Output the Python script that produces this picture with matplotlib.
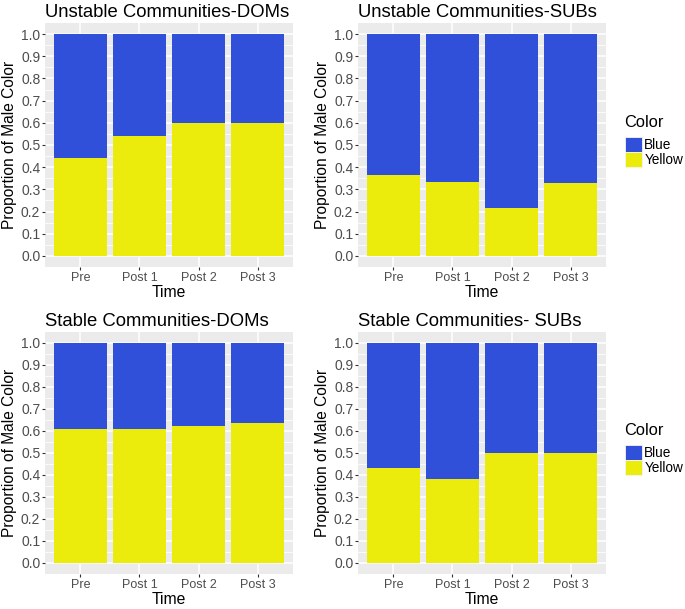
import matplotlib
matplotlib.use("Agg")
import matplotlib.pyplot as plt
from matplotlib.patches import Patch
import numpy as np

plt.rcParams['font.family'] = ['Liberation Sans', 'DejaVu Sans']

times = ["Pre", "Post 1", "Post 2", "Post 3"]
titles = ["Unstable Communities-DOMs", "Unstable Communities-SUBs",
          "Stable Communities-DOMs", "Stable Communities- SUBs"]
yellow_unstable_doms = [0.44, 0.54, 0.60, 0.60]
yellow_unstable_subs = [0.364, 0.333, 0.217, 0.327]
yellow_stable_doms = [0.607, 0.607, 0.623, 0.636]
yellow_stable_subs = [0.433, 0.383, 0.50, 0.50]
yellow_sets = [yellow_unstable_doms, yellow_unstable_subs,
               yellow_stable_doms, yellow_stable_subs]
legend_labels = ["Blue", "Yellow"]

BLUE = "#3150D9"
YELLOW = "#EBEB0C"
BG = "#EBEBEB"
TXT = "#4D4D4D"

W, H = 685, 609
fig = plt.figure(figsize=(W / 100, H / 100), dpi=100)

# axes rectangles in pixels: (left, top, right, bottom)
rects = [(45, 23, 293, 267), (358, 23, 606, 267),
         (45, 332, 293, 574), (358, 332, 606, 574)]

for i, (rect, title, yv) in enumerate(zip(rects, titles, yellow_sets)):
    l, t, r, b = rect
    ax = fig.add_axes([l / W, 1 - b / H, (r - l) / W, (b - t) / H])
    ax.set_facecolor(BG)
    x = np.arange(1, len(times) + 1)
    yv = np.array(yv)
    ax.bar(x, yv, width=0.9, color=YELLOW, zorder=3)
    ax.bar(x, 1 - yv, bottom=yv, width=0.9, color=BLUE, zorder=3)
    ax.set_xlim(0.4, 4.6)
    ax.set_ylim(-0.05, 1.05)
    ax.set_xticks(x)
    ax.set_xticklabels(times)
    ax.set_yticks(np.arange(0, 1.01, 0.1))
    ax.set_yticklabels([f"{v:.1f}" for v in np.arange(0, 1.01, 0.1)])
    ax.set_yticks(np.arange(0.05, 1.0, 0.1), minor=True)
    ax.grid(True, which='major', color='white', linewidth=1.1, zorder=0)
    ax.grid(True, which='minor', axis='y', color='white', linewidth=0.55, zorder=0)
    ax.tick_params(which='minor', length=0)
    ax.tick_params(which='major', length=2.2, color='#333333', width=0.8,
                   labelcolor=TXT, pad=1.2)
    ax.tick_params(axis='y', labelsize=10)
    ax.tick_params(axis='x', labelsize=9)
    for s in ax.spines.values():
        s.set_visible(False)
    ax.set_xlabel("Time", fontsize=11.3, labelpad=1)
    ax.set_ylabel("Proportion of Male Color", fontsize=11.2, labelpad=3)
    ax.set_title(title, fontsize=13.3, loc='left', pad=4, x=0.0)

    if i in (1, 3):
        handles = [Patch(facecolor=BLUE, edgecolor='#F5F5F5', linewidth=0.6),
                   Patch(facecolor=YELLOW, edgecolor='#F5F5F5', linewidth=0.6)]
        leg = ax.legend(handles, legend_labels, title="Color",
                        loc='center left', bbox_to_anchor=(1.075, 0.515),
                        frameon=False, fontsize=9.8, title_fontsize=11.8,
                        handlelength=1.25, handleheight=1.3,
                        handletextpad=0.2, labelspacing=0.02,
                        borderaxespad=0, borderpad=0, alignment='left')
        leg._legend_box.sep = 5

fig.savefig("out.png", dpi=100)
